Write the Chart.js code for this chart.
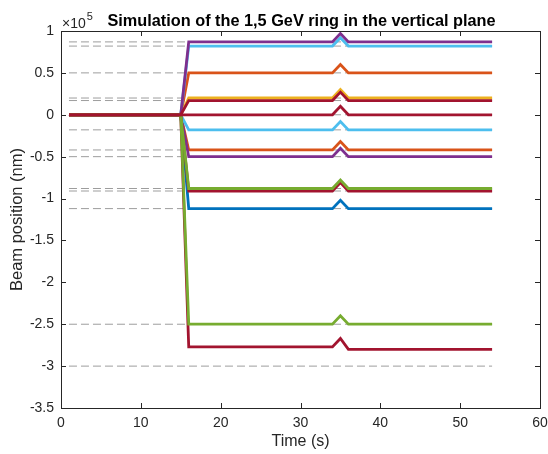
<!DOCTYPE html>
<html>
<head>
<meta charset="utf-8">
<script src="https://cdn.jsdelivr.net/npm/chart.js@4.4.1/dist/chart.umd.min.js"></script>
<style>
  html, body { margin: 0; padding: 0; background: #fff; }
  #wrap { width: 548px; height: 454px; }
</style>
</head>
<body>
<div id="wrap"><canvas id="beamChart" width="548" height="454"></canvas></div>
<script>
// time breakpoints (s)
const timePoints = [1, 15, 16, 34, 35, 36, 54];

// beam position (nm) of each particle at the time breakpoints
const beamBlueA   = [0, 0, -112000, -112000, -102000, -112000, -112000];
const beamOrangeA = [0, 0,   50000,   50000,   60000,   50000,   50000];
const beamYellowA = [0, 0,   20000,   20000,   30000,   20000,   20000];
const beamCyanA   = [0, 0,   82000,   82000,   92000,   82000,   82000];
const beamPurpleA = [0, 0,   87000,   87000,   97000,   87000,   87000];
const beamOrangeB = [0, 0,  -42000,  -42000,  -32000,  -42000,  -42000];
const beamPurpleB = [0, 0,  -50000,  -50000,  -40000,  -50000,  -50000];
const beamCyanB   = [0, 0,  -18000,  -18000,   -8000,  -18000,  -18000];
const beamRedD    = [0, 0, -277000, -277000, -267000, -280000, -280000];
const beamRedC    = [0, 0,  -91000,  -91000,  -81000,  -91000,  -91000];
const beamGreenA  = [0, 0,  -88000,  -88000,  -78000,  -88000,  -88000];
const beamGreenB  = [0, 0, -250000, -250000, -240000, -250000, -250000];
const beamRedA    = [0, 0,   17000,   17000,   27000,   17000,   17000];
const beamRedB    = [0, 0,       0,       0,   10000,       0,       0];

// target positions (dashed reference lines), nm
const targetLevels = [87000, 82000, 50000, 20000, 17000, 0, -18000, -42000, -50000,
                      -88000, -91000, -112000, -250000, -300000];
const targetSpan = [1, 54];

const yTickValues = [100000, 50000, 0, -50000, -100000, -150000, -200000, -250000, -300000, -350000];
const xTickValues = [0, 10, 20, 30, 40, 50, 60];

const C = {
  blue: '#0072BD', orange: '#D95319', yellow: '#EDB120', purple: '#7E2F8E',
  green: '#77AC30', cyan: '#4DBEEE', red: '#A2142F'
};

// drawing order: later entries end up on top
const beams = [
  [beamBlueA, C.blue], [beamOrangeA, C.orange], [beamYellowA, C.yellow],
  [beamCyanA, C.cyan], [beamPurpleA, C.purple], [beamOrangeB, C.orange],
  [beamPurpleB, C.purple], [beamCyanB, C.cyan], [beamRedD, C.red],
  [beamRedC, C.red], [beamGreenA, C.green], [beamGreenB, C.green],
  [beamRedA, C.red], [beamRedB, C.red]
];

const datasets = [];
targetLevels.forEach(lvl => {
  datasets.push({
    data: targetSpan.map(t => ({ x: t, y: lvl })),
    borderColor: '#9d9d9d',
    borderWidth: 1,
    borderDash: [8, 4],
    order: 100
  });
});
beams.forEach(([vals, col], i) => {
  datasets.push({
    data: timePoints.map((t, k) => ({ x: t, y: vals[k] })),
    borderColor: col,
    borderWidth: 2.8,
    order: 50 - i
  });
});

const fontFam = '"Liberation Sans", Arial, Helvetica, sans-serif';
const axisCol = '#262626';

const matlabBox = {
  id: 'matlabBox',
  afterDraw(chart) {
    const { ctx, chartArea: a, scales } = chart;
    ctx.save();
    ctx.strokeStyle = axisCol;
    ctx.lineWidth = 1;
    ctx.strokeRect(Math.round(a.left) + 0.5, Math.round(a.top) + 0.5,
                   Math.round(a.right - a.left), Math.round(a.bottom - a.top));
    ctx.beginPath();
    xTickValues.forEach(v => {
      const px = Math.round(scales.x.getPixelForValue(v)) + 0.5;
      ctx.moveTo(px, a.bottom); ctx.lineTo(px, a.bottom - 5);
      ctx.moveTo(px, a.top); ctx.lineTo(px, a.top + 5);
    });
    yTickValues.forEach(v => {
      const py = Math.round(scales.y.getPixelForValue(v)) + 0.5;
      ctx.moveTo(a.left, py); ctx.lineTo(a.left + 5, py);
      ctx.moveTo(a.right, py); ctx.lineTo(a.right - 5, py);
    });
    ctx.stroke();

    // exponent label
    ctx.fillStyle = axisCol;
    ctx.textBaseline = 'alphabetic';
    ctx.textAlign = 'left';
    ctx.font = '14px ' + fontFam;
    ctx.fillText('\u00d710', a.left + 1, a.top - 3);
    const w = ctx.measureText('\u00d710').width;
    ctx.font = '11px ' + fontFam;
    ctx.fillText('5', a.left + 1 + w + 1, a.top - 11);

    // title
    ctx.fillStyle = '#000';
    ctx.textAlign = 'center';
    ctx.font = 'bold 16.3px ' + fontFam;
    ctx.fillText('Simulation of the 1,5 GeV ring in the vertical plane', (a.left + a.right) / 2 + 1, a.top - 5);
    ctx.restore();
  }
};

new Chart(document.getElementById('beamChart'), {
  type: 'line',
  data: { datasets },
  options: {
    responsive: false,
    animation: false,
    layout: { padding: { top: 31, right: 8, left: 0, bottom: 0 } },
    elements: {
      point: { radius: 0 },
      line: { tension: 0, borderJoinStyle: 'miter', borderCapStyle: 'butt' }
    },
    plugins: { legend: { display: false }, tooltip: { enabled: false } },
    scales: {
      x: {
        type: 'linear', min: 0, max: 60,
        afterBuildTicks: s => { s.ticks = xTickValues.map(v => ({ value: v })); },
        ticks: { color: axisCol, font: { family: fontFam, size: 14 }, padding: 7, maxRotation: 0 },
        grid: { display: false, drawTicks: false },
        border: { display: false },
        title: { display: true, text: 'Time (s)', color: axisCol, font: { family: fontFam, size: 16 }, padding: { top: 0, bottom: 3 } },
        afterFit: s => { s.height = 46; s.paddingLeft = 0; s.paddingRight = 0; }
      },
      y: {
        type: 'linear', min: -350000, max: 100000,
        afterBuildTicks: s => { s.ticks = yTickValues.map(v => ({ value: v })); },
        ticks: { color: axisCol, font: { family: fontFam, size: 14 }, padding: 7,
                 callback: v => String(v / 100000) },
        grid: { display: false, drawTicks: false },
        border: { display: false },
        title: { display: true, text: 'Beam position (nm)', color: axisCol, font: { family: fontFam, size: 16.5 }, padding: { top: 8, bottom: 0 } },
        afterFit: s => { s.width = 61; s.paddingTop = 0; s.paddingBottom = 0; }
      }
    }
  },
  plugins: [matlabBox]
});
</script>
</body>
</html>
